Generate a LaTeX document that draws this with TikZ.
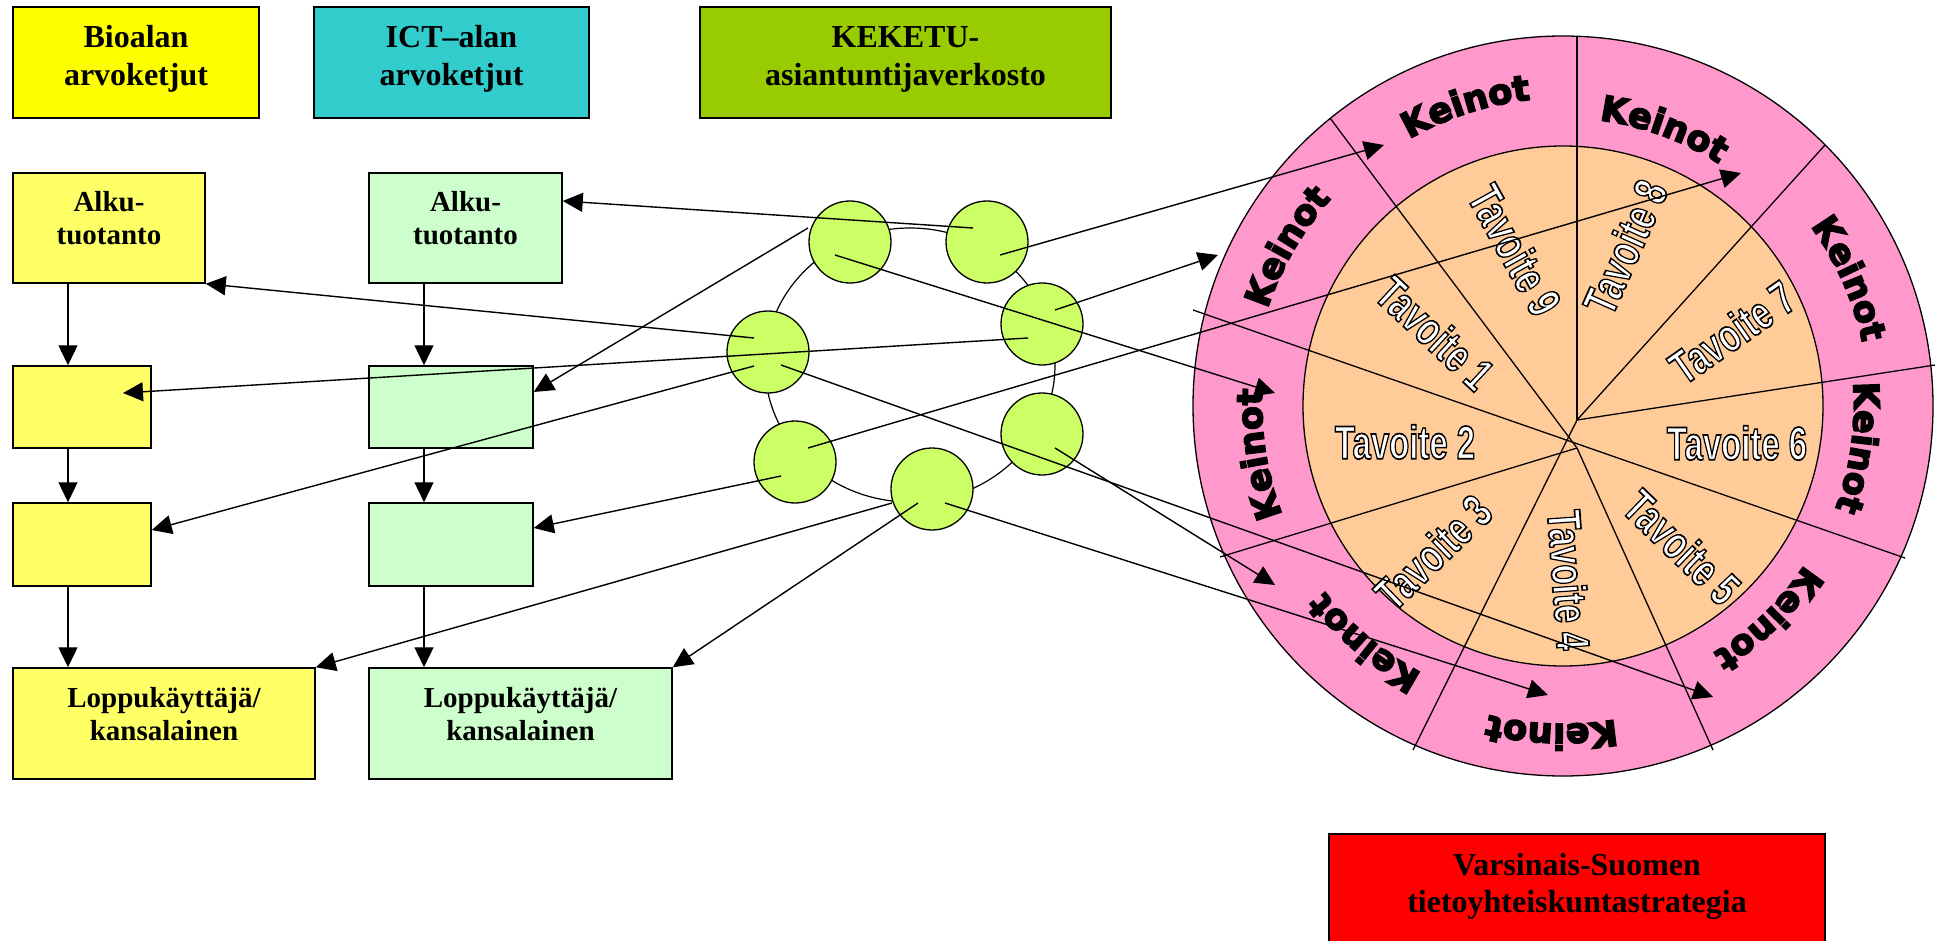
\documentclass[tikz,border=0pt]{standalone}
\usepackage{fontspec}
\setmainfont{Liberation Serif}
\newfontfamily\tavfont{Liberation Sans Bold}
\newfontfamily\kfont{DejaVu Sans Bold}
\usetikzlibrary{arrows.meta,decorations.text}
\definecolor{yhead}{HTML}{FFFF00}
\definecolor{ictc}{HTML}{33CCCC}
\definecolor{kekc}{HTML}{99CC00}
\definecolor{ybox}{HTML}{FFFF66}
\definecolor{gbox}{HTML}{CCFFCC}
\definecolor{redc}{HTML}{FF0000}
\definecolor{cgreen}{HTML}{CCFF66}
\definecolor{pinkc}{HTML}{FF99CC}
\definecolor{peach}{HTML}{FFCC99}
\newcommand\kf{\kfont\fontsize{35}{35}\selectfont\special{pdf:literal direct 2 Tr 1.6 w 0 0 0 RG 0 0 0 rg}}
\newcommand\outl[1]{\special{pdf:literal direct 2 Tr 1.7 w 0 0 0 RG 1 1 1 rg}#1\special{pdf:literal direct 0 Tr}}
\tikzset{
  box/.style={draw=black, line width=1.5pt, rectangle, inner sep=0pt},
  hdrtxt/.style={font=\bfseries\fontsize{32}{38}\selectfont, inner sep=0pt, anchor=base},
  boxtxt/.style={font=\bfseries\fontsize{29}{33}\selectfont, inner sep=0pt, anchor=base},
  netc/.style={circle, draw=black, line width=1.3pt, fill=cgreen, minimum size=82pt, inner sep=0pt},
  conn/.style={line width=1.4pt, -{Triangle[length=20pt,width=19pt]}},
  spoke/.style={line width=1.3pt},
  tavl/.style={font=\tavfont\fontsize{47}{47}\selectfont, inner sep=0pt, text=white},
}
\newcommand\tavo[5]{%
  \node[tavl, rotate=#4] (#1) at (#2,#3) {\scalebox{0.70}[1]{\outl{Tavoite #5}}};}
\newcommand\kei[2]{%
  \path[decorate, decoration={text along path, text={|\kf|Keinot}, text align=center}]
    (W) ++(#1+40:#2pt) arc[start angle=#1+40, end angle=#1-40, radius=#2pt];}
\begin{document}
\begin{tikzpicture}[x=1pt,y=1pt]
\useasboundingbox (0,0) rectangle (1941,-941);
\clip (0,0) rectangle (1941,-941);

% ---------- wheel ----------
\coordinate (W) at (1563,-406);
\draw[fill=pinkc, line width=1.3pt] (W) circle[radius=370];
\draw[fill=peach, line width=1.3pt] (W) circle[radius=260];
\draw[spoke] (1577,-36) -- (1577,-420);
\draw[spoke] (1825,-145) -- (1577,-420);
\draw[spoke] (1935,-365) -- (1577,-420);
\draw[spoke] (1193,-310) -- (1905,-558);
\draw[spoke] (1330,-118) -- (1577,-448);
\draw[spoke] (1577,-448) -- (1713,-750);
\draw[spoke] (1220,-557) -- (1577,-448);
\draw[spoke] (1413,-750) -- (1577,-420);

\tavo{tv1}{1435}{-333}{-43}{1}
\tavo{tv2}{1405}{-442}{0}{2}
\tavo{tv3}{1433}{-552}{44}{3}
\tavo{tv4}{1569}{-580}{-86}{4}
\tavo{tv5}{1682}{-547}{-44}{5}
\tavo{tv6}{1737}{-443}{0}{6}
\tavo{tv7}{1732}{-332}{35}{7}
\tavo{tv8}{1625}{-247}{66}{8}
\tavo{tv9}{1515}{-250}{-61}{9}

\kei{108}{308}
\kei{70}{288}
\kei{24}{306}
\kei{-8}{291}
\kei{-46}{289}
\kei{-92}{318}
\kei{-130}{302}
\kei{-171}{301}
\kei{150}{311}

% ---------- header boxes ----------
\node[box, fill=yhead, minimum width=246pt, minimum height=111pt] (bio) at (136,-62.5) {};
\node[hdrtxt] (bio1) at (136,-48) {Bioalan};
\node[hdrtxt] (bio2) at (136,-86) {arvoketjut};
\node[box, fill=ictc, minimum width=275pt, minimum height=111pt] (ict) at (451.5,-62.5) {};
\node[hdrtxt] (ict1) at (451.5,-48) {ICT–alan};
\node[hdrtxt] (ict2) at (451.5,-86) {arvoketjut};
\node[box, fill=kekc, minimum width=411pt, minimum height=111pt] (kek) at (905.5,-62.5) {};
\node[hdrtxt] (kek1) at (905.5,-48) {KEKETU-};
\node[hdrtxt] (kek2) at (905.5,-86) {asiantuntijaverkosto};

% ---------- value chains ----------
\node[box, fill=ybox, minimum width=192pt, minimum height=110pt] (ya) at (109,-228) {};
\node[boxtxt] (ya1) at (109,-212) {Alku-};
\node[boxtxt] (ya2) at (109,-245) {tuotanto};
\node[box, fill=ybox, minimum width=138pt, minimum height=82pt] (yb) at (82,-407) {};
\node[box, fill=ybox, minimum width=138pt, minimum height=83pt] (yc) at (82,-544.5) {};
\node[box, fill=ybox, minimum width=302pt, minimum height=111pt] (yd) at (164,-723.5) {};
\node[boxtxt] (yd1) at (164,-707) {Loppukäyttäjä/};
\node[boxtxt] (yd2) at (164,-740) {kansalainen};

\node[box, fill=gbox, minimum width=193pt, minimum height=110pt] (ga) at (465.5,-228) {};
\node[boxtxt] (ga1) at (465.5,-212) {Alku-};
\node[boxtxt] (ga2) at (465.5,-245) {tuotanto};
\node[box, fill=gbox, minimum width=164pt, minimum height=82pt] (gb) at (451,-407) {};
\node[box, fill=gbox, minimum width=164pt, minimum height=83pt] (gc) at (451,-544.5) {};
\node[box, fill=gbox, minimum width=303pt, minimum height=111pt] (gd) at (520.5,-723.5) {};
\node[boxtxt] (gd1) at (520.5,-707) {Loppukäyttäjä/};
\node[boxtxt] (gd2) at (520.5,-740) {kansalainen};

\draw[conn] ([xshift=-41pt]ya.south) -- ([xshift=-14pt]yb.north);
\draw[conn] ([xshift=-14pt]yb.south) -- ([xshift=-14pt]yc.north);
\draw[conn] ([xshift=-14pt]yc.south) -- ([xshift=-96pt]yd.north);
\draw[conn] ([xshift=-41.5pt]ga.south) -- ([xshift=-27pt]gb.north);
\draw[conn] ([xshift=-27pt]gb.south) -- ([xshift=-27pt]gc.north);
\draw[conn] ([xshift=-27pt]gc.south) -- ([xshift=-96.5pt]gd.north);

% ---------- strategy box ----------
\node[box, fill=redc, minimum width=496pt, minimum height=125pt, anchor=north] (vs) at (1577,-833) {};
\node[hdrtxt] (vs1) at (1577,-875) {Varsinais-Suomen};
\node[hdrtxt] (vs2) at (1577,-912) {tietoyhteiskuntastrategia};

% ---------- expert network ----------
\draw[line width=1.2pt] (910,-365) ellipse[x radius=145, y radius=137];
\node[netc] (c1) at (850,-242) {};
\node[netc] (c2) at (987,-242) {};
\node[netc] (c3) at (1042,-324) {};
\node[netc] (c4) at (768,-352) {};
\node[netc] (c5) at (1042,-434) {};
\node[netc] (c6) at (795,-462) {};
\node[netc] (c7) at (932,-489) {};

\coordinate (t2) at (1384,-145);
\coordinate (t3) at (1275,-393);
\coordinate (t4) at (1218,-255);
\coordinate (t8) at (1713,-697);
\coordinate (t9) at (1275,-585);
\coordinate (t10) at (1741,-173);
\coordinate (t14) at (1548,-695);

\draw[conn] ([shift={(-14,14)}]c2.center) -- ([yshift=27pt]ga.east);
\draw[conn] ([shift={(13,-13)}]c2.center) -- (t2);
\draw[conn] ([shift={(-15,-13)}]c1.center) -- (t3);
\draw[conn] ([shift={(13,14)}]c3.center) -- (t4);
\draw[conn] ([shift={(-14,-14)}]c3.center) -- ([shift={(41,14)}]yb.center);
\draw[conn] ([shift={(-14,14)}]c4.center) -- (ya.south east);
\draw[conn] ([shift={(-14,-14)}]c4.center) -- ([yshift=14.5pt]yc.east);
\draw[conn] ([shift={(13,-13)}]c4.center) -- (t8);
\draw[conn] ([shift={(13,-14)}]c5.center) -- (t9);
\draw[conn] ([shift={(13,14)}]c6.center) -- (t10);
\draw[conn] ([shift={(-14,-14)}]c6.center) -- ([yshift=16.5pt]gc.east);
\draw[conn] ([shift={(-14,-14)}]c7.center) -- (gd.north east);
\draw[conn] ([shift={(-40,-14)}]c7.center) -- (yd.north east);
\draw[conn] ([shift={(13,-14)}]c7.center) -- (t14);
\draw[conn] ([shift={(-42,14)}]c1.center) -- ([yshift=15pt]gb.east);
\end{tikzpicture}
\end{document}
